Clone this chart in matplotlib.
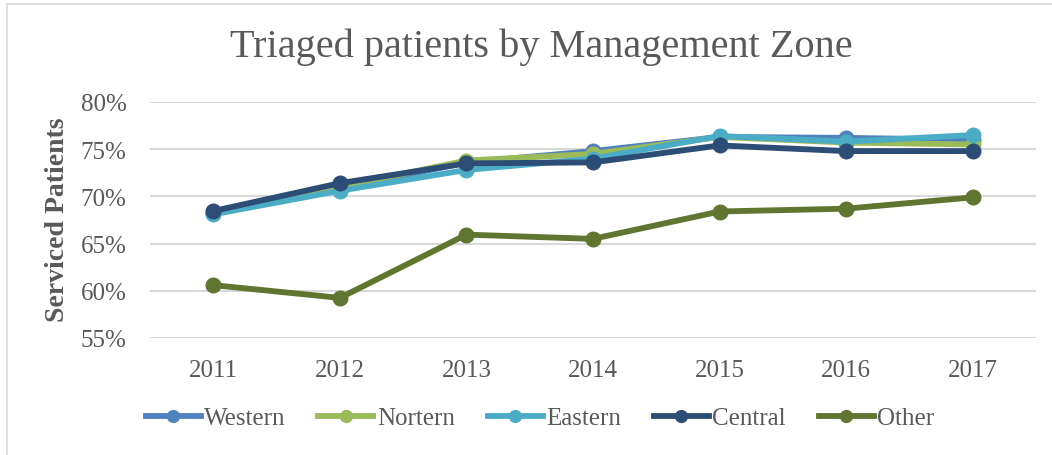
import matplotlib.pyplot as plt
from matplotlib.lines import Line2D
from matplotlib.ticker import PercentFormatter

# ---------------------------------
# Dati
# ---------------------------------
years = ['2011', '2012', '2013', '2014', '2015', '2016', '2017']
western = [68.2, 70.8, 73.6, 74.8, 76.3, 76.2, 76.0]
nortern = [68.3, 71.0, 73.8, 74.5, 76.3, 75.7, 75.5]
eastern = [68.1, 70.6, 72.8, 74.0, 76.4, 75.8, 76.5]
central = [68.45, 71.4, 73.5, 73.6, 75.4, 74.8, 74.8]
other = [60.6, 59.25, 65.95, 65.5, 68.4, 68.7, 69.9]

series = [
    ('Western', western, '#4F81BD'),
    ('Nortern', nortern, '#9BBB59'),
    ('Eastern', eastern, '#4BACC6'),
    ('Central', central, '#2C4D75'),
    ('Other', other, '#5F7530'),
]

plt.rcParams['font.family'] = ['Liberation Serif', 'DejaVu Serif']
text_col = '#595959'

W, H = 1052, 456
fig = plt.figure(figsize=(W / 100, H / 100), dpi=100)
ax = fig.add_axes([150 / W, 1 - 339 / H, (1036 - 150) / W, (339 - 103) / H])

x = list(range(len(years)))
for name, vals, col in series:
    ax.plot(x, vals, color=col, lw=4.2, marker='o', ms=10.5,
            solid_capstyle='round', label=name)

ax.set_xlim(-0.5, len(years) - 0.5)
ax.set_ylim(55, 80)
ax.set_yticks([55, 60, 65, 70, 75, 80])
ax.yaxis.set_major_formatter(PercentFormatter(decimals=0))
ax.set_xticks(x)
ax.set_xticklabels(years)
ax.grid(axis='y', color='#d9d9d9', lw=1.5)
ax.set_axisbelow(True)
for s in ax.spines.values():
    s.set_visible(False)
ax.tick_params(length=0, labelsize=18, colors=text_col)
ax.tick_params(axis='x', pad=15)
ax.tick_params(axis='y', pad=17)

fig.text(58 / W, 1 - 220 / H, 'Serviced Patients', rotation=90, ha='center',
         va='center', fontsize=20, fontweight='bold', color=text_col)
fig.text(541 / W, 1 - 47 / H, 'Triaged patients by Management Zone',
         ha='center', va='center', fontsize=29, color=text_col)

# legenda in basso, una riga
handles = [Line2D([], [], color=c, lw=4.2, marker='o', ms=8.5) for _, _, c in series]
fig.legend(handles, [n for n, _, _ in series], loc='center', ncol=5,
           bbox_to_anchor=(540 / W, 1 - 419 / H), frameon=False, fontsize=18,
           handlelength=2.2, handletextpad=0.15, columnspacing=1.3,
           labelcolor=text_col)

# bordo del riquadro
fig.add_artist(Line2D([7 / W, 7 / W], [0, 1 - 5 / H], color='#d9d9d9', lw=1.2))
fig.add_artist(Line2D([7 / W, 1], [1 - 5 / H, 1 - 5 / H], color='#d9d9d9', lw=1.2))

fig.savefig('out.png', dpi=100)
